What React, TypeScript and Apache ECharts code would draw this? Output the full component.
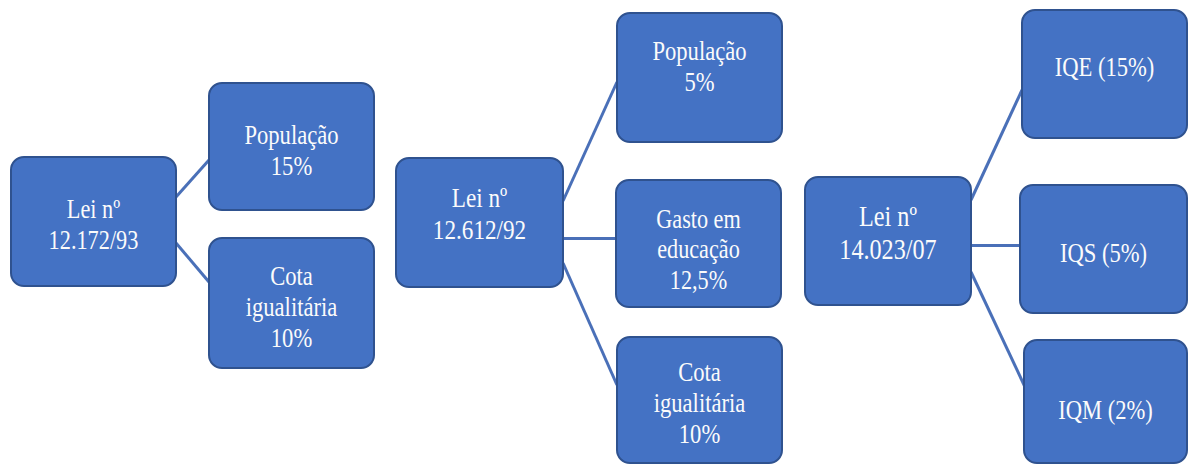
import React, { useEffect, useRef } from "react";
import * as echarts from "echarts";

// ---- content (labels) ----
const law1 = "Lei nº\n12.172/93";
const law1Items = ["População\n15%", "Cota\nigualitária\n10%"];
const law2 = "Lei nº\n12.612/92";
const law2Items = ["População\n5%", "Gasto em\neducação\n12,5%", "Cota\nigualitária\n10%"];
const law3 = "Lei nº\n14.023/07";
const law3Items = ["IQE (15%)", "IQS (5%)", "IQM (2%)"];

// ---- layout (box corners x0,y0,x1,y1, text centre y, font size) ----
const rootBoxes = [
  [11, 157, 176, 286, 224, 22.3],
  [396, 158, 563, 287, 214, 23.2],
  [805, 177, 971, 305, 232.5, 24.2],
];
const childBoxes = [
  [[209, 83, 374, 210, 150, 22.6], [209, 238, 374, 368, 307, 22.6]],
  [[617, 13, 782, 142, 66, 22.6], [616, 180, 781, 307, 249, 22.2], [617, 337, 782, 463, 403, 22.6]],
  [[1022, 10, 1187, 138, 67, 22.6], [1020, 185, 1187, 313, 253, 22.6], [1024, 340, 1187, 463, 410, 22.6]],
];
// connector endpoints [x1,y1,x2,y2]
const connectors = [
  [[176, 197, 209, 160], [176, 243, 209, 282]],
  [[563, 201, 617, 82], [563, 238, 616, 238], [563, 263, 617, 385]],
  [[971, 200, 1022, 90], [971, 245, 1020, 245], [971, 272, 1025, 387]],
];

const roots = [law1, law2, law3];
const items = [law1Items, law2Items, law3Items];

export default function App() {
  const ref = useRef<HTMLDivElement>(null);
  useEffect(() => {
    document.body.style.margin = "0";
    const chart = echarts.init(ref.current!, null, { renderer: "svg" });

    const nodeData: any[] = [];
    roots.forEach((r, i) => {
      nodeData.push({ name: r, value: rootBoxes[i] });
      items[i].forEach((c, j) => {
        nodeData.push({ name: c, value: childBoxes[i][j] });
      });
    });
    const edgeData: any[] = [];
    connectors.forEach((g) =>
      g.forEach((e) => edgeData.push({ coords: [[e[0], e[1]], [e[2], e[3]]] }))
    );

    chart.setOption({
      animation: false,
      backgroundColor: "#ffffff",
      textStyle: { fontFamily: "Liberation Serif" },
      grid: { left: 0, right: 0, top: 0, bottom: 0 },
      xAxis: { type: "value", min: 0, max: 1188, show: false },
      yAxis: { type: "value", min: 0, max: 465, inverse: true, show: false },
      series: [
        {
          type: "lines",
          coordinateSystem: "cartesian2d",
          polyline: false,
          z: 1,
          lineStyle: { color: "#4a70b8", width: 3, opacity: 1 },
          data: edgeData,
          silent: true,
        },
        {
          type: "custom",
          coordinateSystem: "cartesian2d",
          z: 2,
          encode: { x: [0, 2], y: [1, 3] },
          data: nodeData,
          renderItem: (params: any, api: any) => {
            const p0 = api.coord([api.value(0), api.value(1)]);
            const p1 = api.coord([api.value(2), api.value(3)]);
            const ty = api.coord([0, api.value(4)])[1];
            const fs = api.value(5);
            const name = nodeData[params.dataIndex].name;
            return {
              type: "group",
              children: [
                {
                  type: "rect",
                  shape: {
                    x: p0[0],
                    y: p0[1],
                    width: p1[0] - p0[0],
                    height: p1[1] - p0[1],
                    r: 13,
                  },
                  style: { fill: "#4472c4", stroke: "#2f528f", lineWidth: 2 },
                },
                {
                  type: "text",
                  x: (p0[0] + p1[0]) / 2,
                  y: ty,
                  scaleY: 1.2,
                  style: {
                    text: name,
                    x: 0,
                    y: 0,
                    align: "center",
                    verticalAlign: "middle",
                    fill: "#fbfbfb",
                    font: fs + "px 'Liberation Serif', 'Times New Roman', serif",
                    lineHeight: fs * 1.15,
                  },
                },
              ],
            };
          },
        },
      ],
    });
    return () => chart.dispose();
  }, []);
  return <div ref={ref} style={{ width: 1188, height: 465 }} />;
}
